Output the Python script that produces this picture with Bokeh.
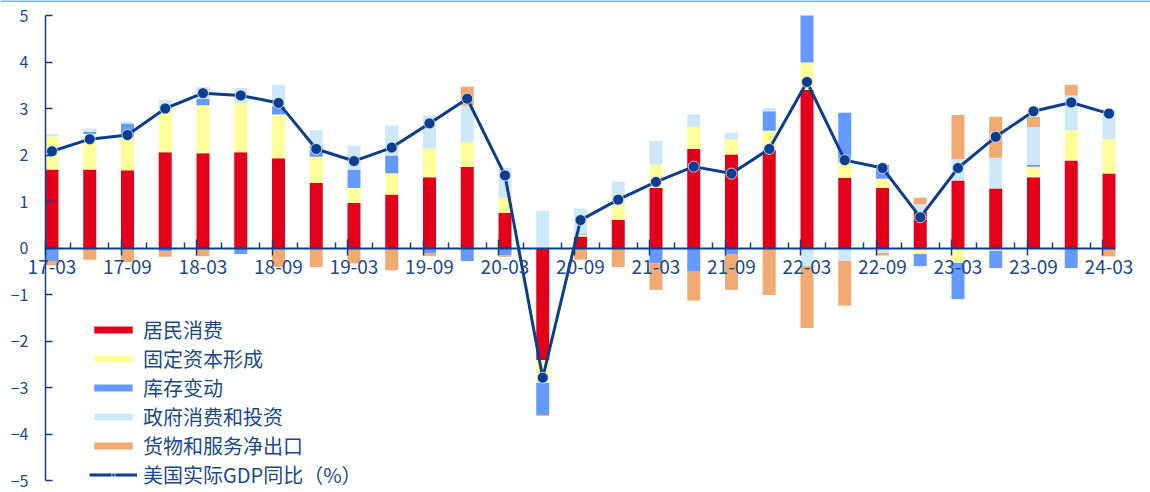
from bokeh.plotting import figure
from bokeh.models import (ColumnDataSource, FixedTicker, LinearAxis, Legend, LegendItem,
                          Range1d, Span)
from bokeh.embed import file_html
from bokeh.resources import INLINE

# Quarterly contributions to US real GDP growth (pp), 2017Q1 - 2024Q1
quarters = ["17-03", "17-06", "17-09", "17-12", "18-03", "18-06", "18-09", "18-12",
            "19-03", "19-06", "19-09", "19-12", "20-03", "20-06", "20-09", "20-12",
            "21-03", "21-06", "21-09", "21-12", "22-03", "22-06", "22-09", "22-12",
            "23-03", "23-06", "23-09", "23-12", "24-03"]

consumption = [1.69, 1.69, 1.67, 2.06, 2.04, 2.06, 1.93, 1.40, 0.97, 1.15, 1.52, 1.74, 0.76,
               -2.41, 0.25, 0.60, 1.29, 2.13, 2.01, 2.11, 3.40, 1.51, 1.29, 0.78, 1.45, 1.28,
               1.52, 1.88, 1.60]
fixed_invest = [0.71, 0.76, 0.71, 0.95, 1.03, 1.05, 0.94, 0.56, 0.32, 0.46, 0.62, 0.53, 0.32,
                -0.49, 0.04, 0.34, 0.50, 0.47, 0.33, 0.41, 0.59, 0.33, 0.20, -0.13, -0.32, -0.06,
                0.23, 0.65, 0.74]
inventory = [-0.28, 0.05, 0.30, -0.07, 0.14, -0.13, 0.18, 0.24, 0.39, 0.38, -0.11, -0.28, -0.16,
             -0.69, 0.02, 0.00, -0.33, -0.51, -0.13, 0.42, 1.30, 1.07, 0.30, -0.26, -0.78, -0.37,
             0.04, -0.43, 0.00]
government = [0.05, 0.07, 0.04, 0.18, 0.25, 0.33, 0.46, 0.33, 0.52, 0.65, 0.71, 0.79, 0.64,
              0.80, 0.54, 0.49, 0.51, 0.27, 0.14, 0.07, -0.39, -0.28, -0.11, 0.16, 0.46, 0.66,
              0.81, 0.75, 0.64]
net_exports = [-0.09, -0.25, -0.30, -0.12, -0.18, 0.00, -0.41, -0.41, -0.33, -0.48, -0.06, 0.41,
               -0.03, -0.02, -0.25, -0.41, -0.57, -0.62, -0.77, -1.01, -1.33, -0.96, -0.05, 0.14,
               0.95, 0.88, 0.22, 0.23, -0.18]
gdp_yoy = [2.08, 2.34, 2.43, 3.00, 3.33, 3.28, 3.12, 2.13, 1.87, 2.16, 2.68, 3.21, 1.56, -2.79,
           0.60, 1.04, 1.42, 1.75, 1.60, 2.13, 3.57, 1.89, 1.72, 0.66, 1.72, 2.39, 2.94, 3.13, 2.89]

series_names = ["居民消费", "固定资本形成", "库存变动", "政府消费和投资", "货物和服务净出口"]
series_values = [consumption, fixed_invest, inventory, government, net_exports]
series_colors = ["#E2001A", "#FFFF99", "#6699FF", "#CCE8FA", "#F0AA72"]
line_name = "美国实际GDP同比（%）"
line_color = "#0C3E8F"
text_color = "#1A4A8E"
border_color = "#7DB5E3"
font = "Noto Sans CJK SC"

y_ticks = [-5, -4, -3, -2, -1, 0, 1, 2, 3, 4, 5]
y_min, y_max = y_ticks[0], y_ticks[-1]

n = len(quarters)
xs = list(range(n))
bar_w = 0.344

# canvas geometry: the axes sit inside the frame so their labels are not clipped
W, H = 1150, 492
px_x = 37.75          # pixels per quarter
px_y = 46.5           # pixels per percentage point
axis_left_px = 45     # where the value axis stands
top_pad_px, bottom_pad_px = 15, 12
x_lo = -bar_w / 2 - axis_left_px / px_x
x_hi = x_lo + W / px_x
y_lo = y_min - bottom_pad_px / px_y
y_hi = y_max + top_pad_px / px_y
frame_h = (y_hi - y_lo) * px_y

p = figure(width=W, height=H, output_backend="svg", toolbar_location=None,
           x_range=Range1d(x_lo, x_hi), y_range=Range1d(y_lo, y_hi),
           min_border_left=0, min_border_right=0, min_border_top=0,
           min_border_bottom=int(round(H - frame_h)),
           x_axis_location=None, y_axis_location=None)
p.outline_line_color = None
p.xgrid.grid_line_color = None
p.ygrid.grid_line_color = None
p.background_fill_color = "white"
p.border_fill_color = "white"

# thin rule along the top edge
p.add_layout(Span(location=y_hi, dimension="width", line_color=border_color, line_width=3))

# positive parts stack upward, negative parts stack downward, same series order;
# bars are cut at the value axis limits
pos_base = [0.0] * n
neg_base = [0.0] * n
legend_items = []
for name, vals, color in zip(series_names, series_values, series_colors):
    bx, bb, bt = [], [], []
    for i, v in enumerate(vals):
        if v >= 0:
            lo, hi = pos_base[i], pos_base[i] + v
            pos_base[i] = hi
        else:
            hi, lo = neg_base[i], neg_base[i] + v
            neg_base[i] = lo
        bx.append(i)
        bb.append(max(lo, y_min))
        bt.append(min(hi, y_max))
    src = ColumnDataSource(dict(x=bx, bottom=bb, top=bt))
    r = p.vbar(x="x", bottom="bottom", top="top", width=bar_w, source=src,
               fill_color=color, line_color=None)
    legend_items.append(LegendItem(label=name, renderers=[r]))

line_src = ColumnDataSource(dict(x=xs, y=gdp_yoy))
lr = p.line("x", "y", source=line_src, line_color=line_color, line_width=3)
sr = p.scatter("x", "y", source=line_src, size=11, fill_color=line_color,
               line_color="#e4ecf7", line_width=0.8)
legend_items.append(LegendItem(label=line_name, renderers=[lr, sr]))

x_bounds = (-bar_w / 2, n - 1 + bar_w / 2)

# category axis at y = 0 with labels every half year
label_idx = xs[::2]
xa = LinearAxis(ticker=FixedTicker(ticks=label_idx, minor_ticks=[]), fixed_location=0,
                bounds=x_bounds)
xa.major_label_overrides = {i: quarters[i] for i in label_idx}
xa.major_tick_line_color = None
xa.minor_tick_line_color = None
xa.axis_line_color = line_color
xa.axis_line_width = 2
xa.major_tick_out = 7
xa.major_label_standoff = 5
xa.major_label_text_color = text_color
xa.major_label_text_font = font
xa.major_label_text_font_size = "19px"
p.add_layout(xa, "below")

# tick marks along the zero line
ta = LinearAxis(ticker=FixedTicker(ticks=[i - bar_w / 2 for i in label_idx],
                                   minor_ticks=[i + 0.5 for i in xs[:-1]]),
                fixed_location=0, bounds=x_bounds)
ta.axis_line_color = None
ta.major_tick_line_color = line_color
ta.major_tick_line_width = 1.5
ta.major_tick_in = 9
ta.major_tick_out = 7
ta.minor_tick_line_color = line_color
ta.minor_tick_line_width = 1.5
ta.minor_tick_in = 6
ta.minor_tick_out = 0
ta.major_label_text_font_size = "0px"
ta.major_label_text_alpha = 0
p.add_layout(ta, "below")

ya = LinearAxis(ticker=FixedTicker(ticks=y_ticks, minor_ticks=[]), fixed_location=x_bounds[0],
                bounds=(y_min, y_max))
ya.axis_line_color = line_color
ya.axis_line_width = 1.5
ya.major_tick_line_color = line_color
ya.major_tick_line_width = 1.5
ya.major_tick_in = 7
ya.major_tick_out = 0
ya.major_label_standoff = 17
ya.major_label_text_color = text_color
ya.major_label_text_font = font
ya.major_label_text_font_size = "16px"
p.add_layout(ya, "left")

legend = Legend(items=legend_items, location=(89, 3), padding=0, margin=0,
                spacing=0, glyph_width=48, glyph_height=9, label_height=20,
                label_standoff=6, label_text_font=font, label_text_font_size="20px",
                label_text_color=text_color, background_fill_alpha=0,
                border_line_color=None)
p.add_layout(legend, "center")

open("out.html", "w").write(file_html(p, INLINE))
